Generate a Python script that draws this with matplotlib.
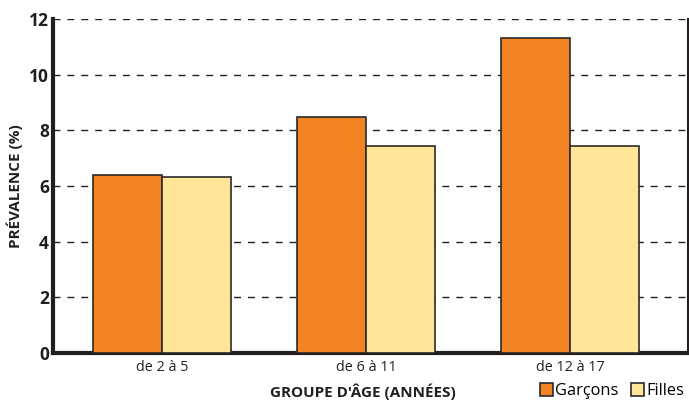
import numpy as np
import matplotlib.pyplot as plt

# Values
age_groups = ['de 2 à 5', 'de 6 à 11', 'de 12 à 17']
garcons = [6.38, 8.47, 11.31]
filles = [6.31, 7.43, 7.43]
y_ticks = [0, 2, 4, 6, 8, 10, 12]

orange = '#F28322'
yellow = '#FEE597'
ink = '#231f20'

plt.rcParams['font.family'] = ['Open Sans', 'DejaVu Sans']

fig = plt.figure(figsize=(6.89, 4.0), dpi=100)
ax = fig.add_axes([53 / 689, 47 / 400, 635 / 689, 334 / 400])

x = np.arange(len(age_groups))
w = 0.338
ax.bar(x - w / 2, garcons, w, color=orange, edgecolor='#2a2a2a', linewidth=1.2, zorder=3, label='Garçons')
ax.bar(x + w / 2, filles, w, color=yellow, edgecolor='#2a2a2a', linewidth=1.2, zorder=3, label='Filles')

ax.set_xlim(-0.534, 2.578)
ax.set_ylim(0, 12)
ax.set_yticks(y_ticks)
ax.set_yticklabels([str(t) for t in y_ticks], fontsize=12.5, fontweight='bold', color=ink)
ax.set_xticks(x)
ax.set_xticklabels(age_groups, fontsize=10.4, color=ink)
ax.tick_params(axis='both', length=0)
ax.tick_params(axis='y', pad=3)
ax.tick_params(axis='x', pad=5)

# dashed horizontal grid
ax.yaxis.grid(True, linestyle=(0, (5, 5)), color=ink, linewidth=1.0, zorder=0)
ax.set_axisbelow(True)

ax.spines['top'].set_visible(False)
ax.spines['left'].set_linewidth(3)
ax.spines['bottom'].set_linewidth(3)
ax.spines['right'].set_linewidth(1.5)
for s in ax.spines.values():
    s.set_color(ink)

ax.set_ylabel('PRÉVALENCE (%)', fontsize=11, fontweight='bold', color=ink, labelpad=4)
fig.text(363 / 689, 1 - 392 / 400, "GROUPE D'ÂGE (ANNÉES)", ha='center', va='center',
         fontsize=11, fontweight='bold', color=ink)

fig.legend(loc='center left', bbox_to_anchor=(540 / 689, 1 - 391 / 400),
           ncol=2, frameon=False, fontsize=11.8, handlelength=0.8, handleheight=0.8,
           handletextpad=0.1, columnspacing=0.8, borderpad=0, borderaxespad=0)

fig.savefig('out.png', dpi=100)
